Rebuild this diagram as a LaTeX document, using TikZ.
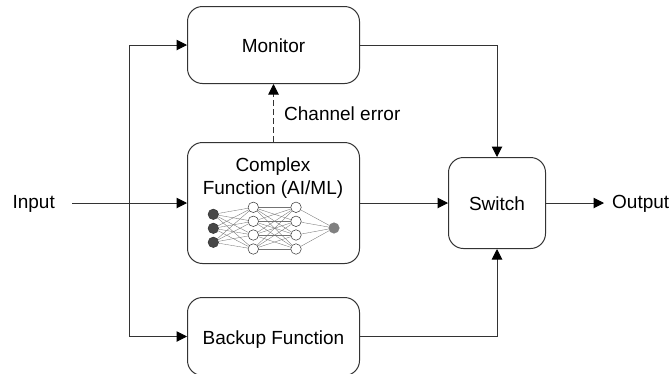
\documentclass[tikz,border=0pt]{standalone}
\usepackage{fontspec}
\setmainfont{Liberation Sans}
\usetikzlibrary{arrows.meta}
\definecolor{linea}{HTML}{333333}
\tikzset{
	caja/.style={draw=linea, line width=1pt, rounded corners=15pt, anchor=north west, inner sep=0pt, text height=15.6pt, text depth=0pt, font=\fontsize{19}{23}\selectfont},
	etiqueta/.style={inner sep=0pt, text height=14.5pt, text depth=3pt, font=\fontsize{19}{23}\selectfont},
	flecha/.style={draw=linea, line width=1pt, -{Triangle[length=10.5pt,width=10.5pt,color=black]}},
	neurona/.style={circle, draw=linea, line width=0.5pt, fill=white, minimum size=10.5pt, inner sep=0pt},
	entrada/.style={neurona, fill=black!72},
	salida/.style={neurona, draw=black!50, fill=black!50},
	enlace/.style={draw=black!55, line width=0.35pt}
}
\begin{document}
\begin{tikzpicture}[x=1pt, y=-1pt]
	\useasboundingbox (0,0) rectangle (672,373);
	% Cajas
		\node[caja, minimum width=172pt, minimum height=77pt] (monitor) at (187,6) {Monitor};
		\node[caja, minimum width=172pt, minimum height=121pt] (complex) at (187,142) {};
		\node[caja, minimum width=172pt, minimum height=78pt] (backup) at (187,297) {Backup Function};
		\node[caja, minimum width=97pt, minimum height=91pt] (switch) at (448,157) {Switch};
	% Etiquetas
		\node[inner sep=0pt, align=center, font=\fontsize{19}{23}\selectfont] (complextxt) at (273,178) {Complex\\Function (AI/ML)};
		\node[etiqueta, anchor=east, inner xsep=17pt] (input) at (72,203) {Input};
		\node[etiqueta, anchor=west, inner xsep=8pt] (output) at (604,203) {Output};
		\node[etiqueta, anchor=west] (error) at (284,115) {Channel error};
	% Red neuronal
		% Capas
			\foreach \y [count=\i] in {214.3,228.3,242.3}
				\node[entrada] (a\i) at (213.3,\y) {};
			\foreach \y [count=\i] in {207.3,221.3,235,249} {
				\node[neurona] (b\i) at (253.3,\y) {};
				\node[neurona] (c\i) at (296,\y) {};
			}
			\node[salida] (d) at (334,228) {};
		% Enlaces
			\foreach \i in {1,2,3}
				\foreach \j in {1,2,3,4}
					\draw[enlace] (a\i) -- (b\j);
			\foreach \i in {1,2,3,4}
				\foreach \j in {1,2,3,4}
					\draw[enlace] (b\i) -- (c\j);
			\foreach \i in {1,2,3,4}
				\draw[enlace] (c\i) -- (d);
	% Conexiones
		\coordinate (rama) at (129,203);
		\draw[flecha] (input.east) -- (complex.west |- input.east);
		\draw[flecha] (rama) |- (monitor.west);
		\draw[flecha] (rama) |- (backup.west);
		\draw[flecha, dash pattern=on 6pt off 3pt] (complex.north) -- (monitor.south);
		\draw[flecha] (monitor.east) -| (switch.north);
		\draw[flecha] (backup.east) -| (switch.south);
		\draw[flecha] (complex.east |- switch.west) -- (switch.west);
		\draw[flecha] (switch.east) -- (output.west);
\end{tikzpicture}
\end{document}
